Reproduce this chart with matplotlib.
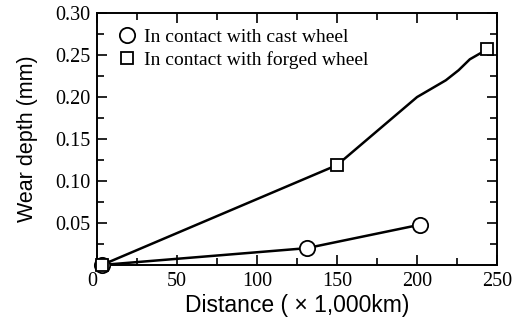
import matplotlib
matplotlib.use("Agg")
import matplotlib.pyplot as plt
from matplotlib.ticker import MultipleLocator, FixedLocator

# ── Data ──────────────────────────────────────────────────────────────────────
cast_dist = [3, 131, 202]
cast_wear = [0.0, 0.020, 0.048]

forged_dist = [3, 150, 244]
forged_wear = [0.0, 0.119, 0.257]

# the forged curve bends between the last two markers
forged_line_dist = [3, 150, 200, 218, 226, 233, 244]
forged_line_wear = [0.0, 0.119, 0.200, 0.220, 0.232, 0.245, 0.257]

xticks = [0, 50, 100, 150, 200, 250]
yticks = [0.05, 0.10, 0.15, 0.20, 0.25, 0.30]

serif = "Liberation Serif"
sans = "Liberation Sans"

fig = plt.figure(figsize=(5.31, 3.2), dpi=100)
ax = fig.add_axes([0.183, 0.172, 0.753, 0.787])

ax.plot(cast_dist, cast_wear, color="black", lw=1.8, zorder=2)
ax.plot(cast_dist, cast_wear, "o", ms=11, mfc="white", mec="black", mew=1.3,
        ls="none", zorder=3, clip_on=False, label="In contact with cast wheel")

ax.plot(forged_line_dist, forged_line_wear, color="black", lw=1.8, zorder=2)
ax.plot(forged_dist, forged_wear, "s", ms=9, mfc="white", mec="black", mew=1.3,
        ls="none", zorder=4, clip_on=False, label="In contact with forged wheel")

ax.set_xlim(0, 250)
ax.set_ylim(0, 0.30)
ax.xaxis.set_major_locator(FixedLocator(xticks))
ax.yaxis.set_major_locator(FixedLocator(yticks))
ax.xaxis.set_minor_locator(MultipleLocator(25))
ax.yaxis.set_minor_locator(MultipleLocator(0.025))
ax.set_yticklabels([f"{v:.2f}" for v in yticks])
ax.tick_params(which="both", direction="in", top=True, right=True,
               labelsize=14.5, pad=5)
ax.tick_params(which="major", length=7, width=1.2)
ax.tick_params(which="minor", length=5, width=1.2)
for lab in ax.get_xticklabels() + ax.get_yticklabels():
    lab.set_fontfamily(serif)
# the "0" sits left of the corner
ax.get_xticklabels()[0].set_horizontalalignment("right")

for sp in ax.spines.values():
    sp.set_linewidth(1.4)

ax.set_xlabel("Distance ( \u00d7 1,000km)", fontsize=16.5, family=sans, labelpad=2)
ax.set_ylabel("Wear depth (mm)", fontsize=15.5, family=sans, labelpad=12)

leg = ax.legend(loc="upper left", frameon=False, prop={"family": serif, "size": 14},
                handletextpad=0.1, borderaxespad=0.35, labelspacing=0.25,
                handlelength=1.5, borderpad=0.45)

fig.savefig("out.png", dpi=100)
